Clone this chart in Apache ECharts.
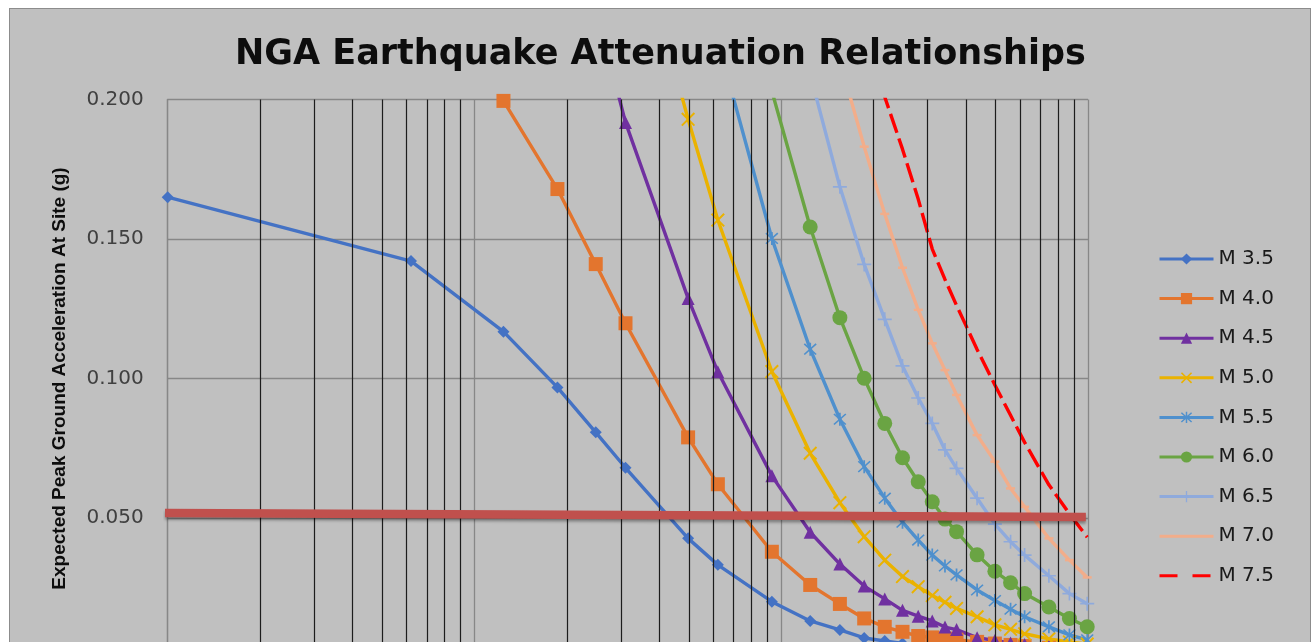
<!DOCTYPE html>
<html><head><meta charset="utf-8">
<script src="https://cdn.jsdelivr.net/npm/echarts@6/dist/echarts.min.js"></script>
<style>
html,body{margin:0;padding:0;background:#fff;overflow:hidden;width:1312px;height:642px;}
#frame{position:absolute;left:9px;top:8px;width:1302px;height:660px;background:#c0c0c0;border:1px solid #8c8c8c;box-sizing:border-box;}
#chart{position:absolute;left:0;top:0;width:1312px;height:642px;}
</style></head><body>
<div id="frame"></div><div id="chart"></div>
<script>
// distance values (x) shared by all magnitude curves
const distances = [1, 6.21, 12.43, 18.64, 24.85, 31.07, 49.71, 62.14, 93.21, 124.3, 155.3, 186.4, 217.5, 248.5, 279.6, 310.7, 341.8, 372.8, 435.0, 497.1, 559.2, 621.4, 745.6, 869.9, 994.2];

const m35 = [0.165, 0.1421, 0.1168, 0.0968, 0.0807, 0.0680, 0.0427, 0.0332, 0.0200, 0.0131, 0.0099, 0.0070, 0.0059, 0.0050, 0.0045, 0.0040, 0.0036, 0.0033, 0.0028, 0.0024, 0.0021, 0.0019, 0.0015, 0.0013, 0.0011];
const m40 = [0.34, 0.27, 0.1995, 0.1679, 0.1410, 0.1198, 0.0789, 0.0621, 0.0379, 0.0260, 0.0192, 0.0140, 0.0110, 0.0092, 0.0077, 0.0072, 0.0068, 0.0064, 0.0056, 0.0050, 0.0045, 0.0041, 0.0035, 0.0030, 0.0026];
const m45 = [0.9, 0.6, 0.45, 0.33, 0.233, 0.1918, 0.1287, 0.1024, 0.0651, 0.0449, 0.0335, 0.0256, 0.0210, 0.0169, 0.0148, 0.0131, 0.0109, 0.0100, 0.0071, 0.0061, 0.0052, 0.0047, 0.0040, 0.0035, 0.0030];
const m50 = [1.4, 0.8, 0.55, 0.42, 0.34, 0.275, 0.1929, 0.1568, 0.1025, 0.0732, 0.0555, 0.0433, 0.0349, 0.0290, 0.0254, 0.0222, 0.0198, 0.0176, 0.0146, 0.0117, 0.0101, 0.0085, 0.0067, 0.0056, 0.0048];
const m55 = [2.0, 1.1, 0.75, 0.55, 0.45, 0.38, 0.27, 0.221, 0.1502, 0.1105, 0.0854, 0.0684, 0.0571, 0.0485, 0.0421, 0.0367, 0.0328, 0.0296, 0.0242, 0.0204, 0.0173, 0.0146, 0.0110, 0.0081, 0.0063];
const m60 = [3.0, 1.5, 1.0, 0.75, 0.6, 0.5, 0.33, 0.27, 0.203, 0.1543, 0.1218, 0.1001, 0.0839, 0.0716, 0.0630, 0.0558, 0.0496, 0.0451, 0.0368, 0.0309, 0.0268, 0.0229, 0.0181, 0.0140, 0.0110];
const m65 = [4.0, 2.0, 1.3, 1.0, 0.8, 0.65, 0.45, 0.37, 0.27, 0.209, 0.1687, 0.1409, 0.1212, 0.1045, 0.0930, 0.0839, 0.0744, 0.0678, 0.0571, 0.0478, 0.0415, 0.0367, 0.0293, 0.0229, 0.0193];
const m70 = [5.0, 2.5, 1.6, 1.2, 1.0, 0.85, 0.55, 0.45, 0.33, 0.26, 0.214, 0.1831, 0.1590, 0.1397, 0.1246, 0.1126, 0.1030, 0.0941, 0.0797, 0.0702, 0.0606, 0.0540, 0.0427, 0.0349, 0.0287];
const m75 = [6.0, 3.0, 2.0, 1.5, 1.2, 1.0, 0.7, 0.55, 0.40, 0.31, 0.26, 0.226, 0.2009, 0.1822, 0.1643, 0.1464, 0.1355, 0.1262, 0.1104, 0.0977, 0.0868, 0.0771, 0.0619, 0.0515, 0.0431];

const seriesNames = ['M 3.5', 'M 4.0', 'M 4.5', 'M 5.0', 'M 5.5', 'M 6.0', 'M 6.5', 'M 7.0', 'M 7.5'];
const seriesValues = [m35, m40, m45, m50, m55, m60, m65, m70, m75];

// minor vertical grid lines of the log distance axis
const minorGridX = [2, 3, 4, 5, 6, 7, 8, 9, 20, 30, 40, 50, 60, 70, 80, 90, 200, 300, 400, 500, 600, 700, 800, 900];

// 0.05 g threshold band (drawn shape)
const thresholdX = [0.98, 984];
const thresholdY = [0.0518, 0.0504];

const yLabelDigits = 3;

// ---- styles ----
const PLUS = 'path://M4.4,0H5.6V10H4.4Z M0,4.4H10V5.6H0Z';
const CROSS = 'path://M0,1L1,0L10,9L9,10Z M9,0L10,1L1,10L0,9Z';
const STAR = 'path://M4.4,0H5.6V10H4.4Z M0.5,1.3L1.3,0.5L9.5,8.7L8.7,9.5Z M8.7,0.5L9.5,1.3L1.3,9.5L0.5,8.7Z';
const styles = [
  {color: '#4472C4', symbol: 'diamond', size: 12},
  {color: '#E3752E', symbol: 'rect', size: 14},
  {color: '#7030A0', symbol: 'triangle', size: 13},
  {color: '#EAB200', symbol: CROSS, size: 14},
  {color: '#4F90CD', symbol: STAR, size: 13},
  {color: '#6AA443', symbol: 'circle', size: 15},
  {color: '#8FAADC', symbol: PLUS, size: 14},
  {color: '#F2AD8A', symbol: 'rect', size: [9, 2.5]},
  {color: '#FF0000', symbol: 'none', size: 0, dash: [20, 6]}
];

const series = seriesNames.map((name, i) => {
  const st = styles[i];
  return {
    name: name,
    type: 'line',
    data: distances.map((d, j) => [d, seriesValues[i][j]]),
    symbol: st.symbol,
    symbolSize: st.size,
    showSymbol: st.symbol !== 'none',
    clip: i !== 0,
    z: 3,
    itemStyle: {color: st.color},
    lineStyle: {color: st.color, width: 3.4, type: st.dash || 'solid'},
    emphasis: {disabled: true}
  };
});

series.unshift({
  name: 'minor grid',
  type: 'line',
  data: [],
  z: 1,
  silent: true,
  markLine: {
    silent: true,
    symbol: ['none', 'none'],
    label: {show: false},
    animation: false,
    lineStyle: {color: '#1c1c1c', width: 1.2, type: 'solid'},
    emphasis: {disabled: true},
    data: minorGridX.map(v => ({xAxis: v}))
  }
});

series.push({
  name: 'threshold',
  type: 'line',
  data: thresholdX.map((x, i) => [x, thresholdY[i]]),
  symbol: 'none',
  clip: false,
  z: 6,
  silent: true,
  lineStyle: {color: '#C0504D', width: 8.5, cap: 'butt',
    shadowColor: 'rgba(0,0,0,0.35)', shadowBlur: 3, shadowOffsetY: 2.5},
  emphasis: {disabled: true}
});

const legendData = seriesNames.map((name, i) => {
  const item = {name: name};
  if (i === 7) item.itemStyle = {opacity: 0};
  if (i === 8) { item.itemStyle = {opacity: 0}; item.lineStyle = {type: [18, 15]}; }
  return item;
});

const chart = echarts.init(document.getElementById('chart'), null, {renderer: 'canvas'});
chart.setOption({
  backgroundColor: 'transparent',
  animation: false,
  title: {
    text: 'NGA Earthquake Attenuation Relationships',
    left: 230,
    top: 32,
    textStyle: {fontFamily: 'DejaVu Sans', fontWeight: 'bold', fontSize: 35, color: '#0d0d0d'}
  },
  grid: {left: 167.7, top: 99.5, width: 920.3, height: 558, containLabel: false, outerBoundsMode: 'none'},
  legend: {
    orient: 'vertical',
    left: 1158,
    top: 249,
    padding: 0,
    itemWidth: 54,
    itemHeight: 14,
    itemGap: 19.6,
    textStyle: {fontFamily: 'DejaVu Sans', fontSize: 20, color: '#1a1a1a', lineHeight: 20},
    lineStyle: {width: 3},
    selectedMode: false,
    data: legendData
  },
  xAxis: {
    type: 'log',
    logBase: 10,
    min: 1,
    max: 1000,
    axisLine: {show: false},
    axisTick: {show: false},
    axisLabel: {show: false},
    splitLine: {show: true, lineStyle: {color: '#878787', width: 1.3}}
  },
  yAxis: {
    type: 'value',
    min: 0,
    max: 0.2,
    interval: 0.05,
    name: 'Expected Peak Ground Acceleration At Site (g)',
    nameLocation: 'middle',
    nameGap: 98,
    nameTextStyle: {fontFamily: 'Liberation Sans', fontWeight: 'bold', fontSize: 19, color: '#0d0d0d'},
    axisLine: {show: true, lineStyle: {color: '#878787', width: 1.3}},
    axisTick: {show: false},
    axisLabel: {
      margin: 24,
      fontFamily: 'DejaVu Sans',
      fontSize: 20,
      color: '#404040',
      formatter: v => v.toFixed(yLabelDigits)
    },
    splitLine: {show: true, lineStyle: {color: '#878787', width: 1.3}}
  },
  series: series
});
</script>
</body></html>
